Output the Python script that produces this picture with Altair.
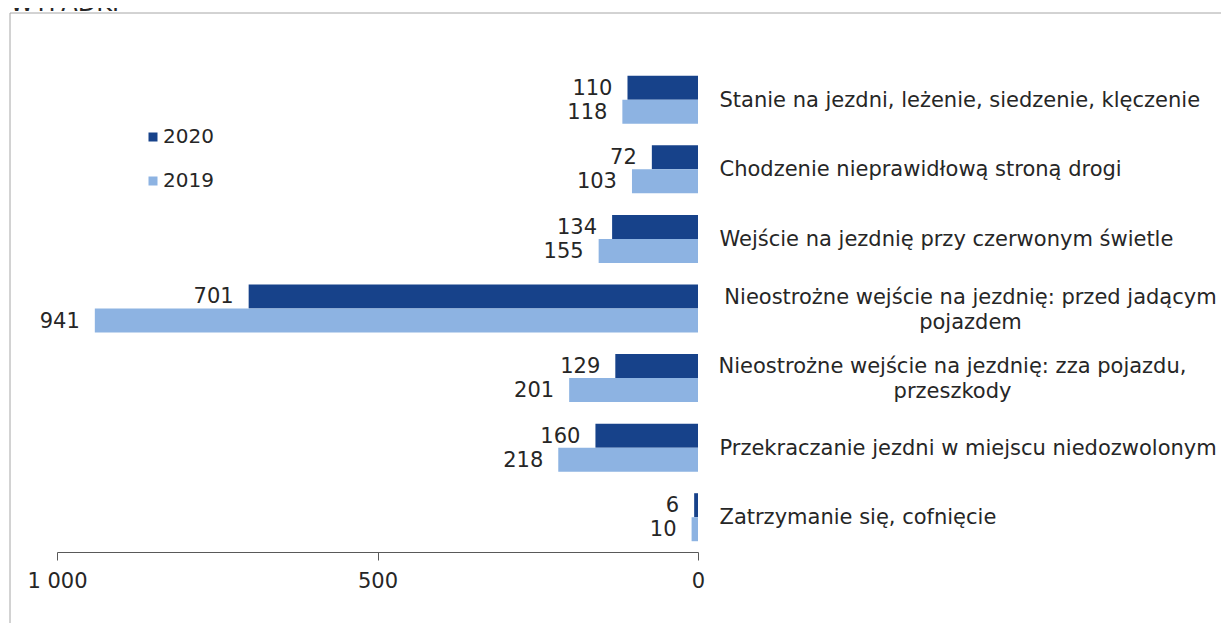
import altair as alt
import pandas as pd

# ---- data ----
categories = [
    "Stanie na jezdni, leżenie, siedzenie, klęczenie",
    "Chodzenie nieprawidłową stroną drogi",
    "Wejście na jezdnię przy czerwonym świetle",
    "Nieostrożne wejście na jezdnię: przed jadącym|pojazdem",
    "Nieostrożne wejście na jezdnię: zza pojazdu,|przeszkody",
    "Przekraczanie jezdni w miejscu niedozwolonym",
    "Zatrzymanie się, cofnięcie",
]
values_2020 = [110, 72, 134, 701, 129, 160, 6]
values_2019 = [118, 103, 155, 941, 201, 218, 10]
years = ["2020", "2019"]
year_colors = ["#17428A", "#8DB3E2"]
x_ticks = [0, 500, 1000]
title_text = "WYPADKI"

rows = []
for c, v20, v19 in zip(categories, values_2020, values_2019):
    rows.append({"kategoria": c, "rok": "2020", "wartosc": v20})
    rows.append({"kategoria": c, "rok": "2019", "wartosc": v19})
df = pd.DataFrame(rows)

FONT = "DejaVu Sans"
TXT = "#262626"
W, H = 641, 487

multi = "indexof(datum.value, '|') >= 0"
is_przed = "datum.value == '" + categories[3] + "'"
is_zza = "datum.value == '" + categories[4] + "'"

y_enc = alt.Y(
    "kategoria:N",
    sort=categories,
    scale=alt.Scale(paddingInner=0.31, paddingOuter=0.155),
    axis=alt.Axis(
        orient="right",
        title=None,
        domain=False,
        ticks=False,
        grid=False,
        labelFont=FONT,
        labelFontSize=21,
        labelColor=TXT,
        labelLimit=0,
        labelLineHeight=25,
        labelBaseline="middle",
        labelExpr="split(datum.label, '|')",
        labelAlign={"condition": {"test": multi, "value": "center"}, "value": "left"},
        labelPadding={
            "condition": [
                {"test": is_przed, "value": 272},
                {"test": is_zza, "value": 254},
            ],
            "value": 21,
        },
        labelOffset={"condition": {"test": multi, "value": -11}, "value": 1},
    ),
)
yoff_enc = alt.YOffset("rok:N", sort=years, scale=alt.Scale(paddingInner=0, paddingOuter=0))
x_scale = alt.Scale(domain=[0, 1000], reverse=True, nice=False)

bars = alt.Chart(df).mark_bar().encode(
    y=y_enc,
    yOffset=yoff_enc,
    x=alt.X(
        "wartosc:Q",
        scale=x_scale,
        axis=alt.Axis(
            title=None,
            values=x_ticks,
            grid=False,
            domainColor="#595959",
            tickColor="#595959",
            tickSize=8,
            labelFlush=False,
            labelFont=FONT,
            labelFontSize=21,
            labelColor=TXT,
            labelPadding=10,
            labelExpr="replace(format(datum.value, ','), ',', ' ')",
        ),
    ),
    color=alt.Color(
        "rok:N",
        sort=years,
        scale=alt.Scale(domain=years, range=year_colors),
        legend=alt.Legend(
            title=None,
            orient="none",
            legendX=86,
            legendY=62,
            symbolType="square",
            symbolSize=81,
            symbolStrokeWidth=0,
            labelFont=FONT,
            labelFontSize=20,
            labelColor=TXT,
            labelOffset=0,
            rowPadding=24,
        ),
    ),
)

labels = alt.Chart(df).mark_text(
    align="right", baseline="middle", dx=-15, dy=1, font=FONT, fontSize=21, color=TXT
).encode(
    y=alt.Y("kategoria:N", sort=categories),
    yOffset=yoff_enc,
    x=alt.X("wartosc:Q", scale=x_scale),
    text=alt.Text("wartosc:Q"),
)

one = pd.DataFrame({"k": [0]})
border = alt.Chart(one).mark_rect(
    fillOpacity=0, stroke="#a6a6a6", strokeWidth=1
).encode(
    x=alt.value(-47), x2=alt.value(W + 600), y=alt.value(-52), y2=alt.value(H + 200)
)
title = alt.Chart(one).mark_text(
    text=title_text, align="left", baseline="alphabetic", font=FONT, fontSize=24, color=TXT
).encode(x=alt.value(-47), y=alt.value(-54))

chart = (
    alt.layer(border, title, bars, labels)
    .resolve_scale(y="shared")
    .properties(
        width=W,
        height=H,
        padding={"left": 49, "top": 57, "right": 523, "bottom": 71},
        autosize=alt.AutoSizeParams(type="none"),
    )
    .configure_view(stroke="transparent")
)

chart.save("out.html", embed_options={"renderer": "svg", "actions": False})
